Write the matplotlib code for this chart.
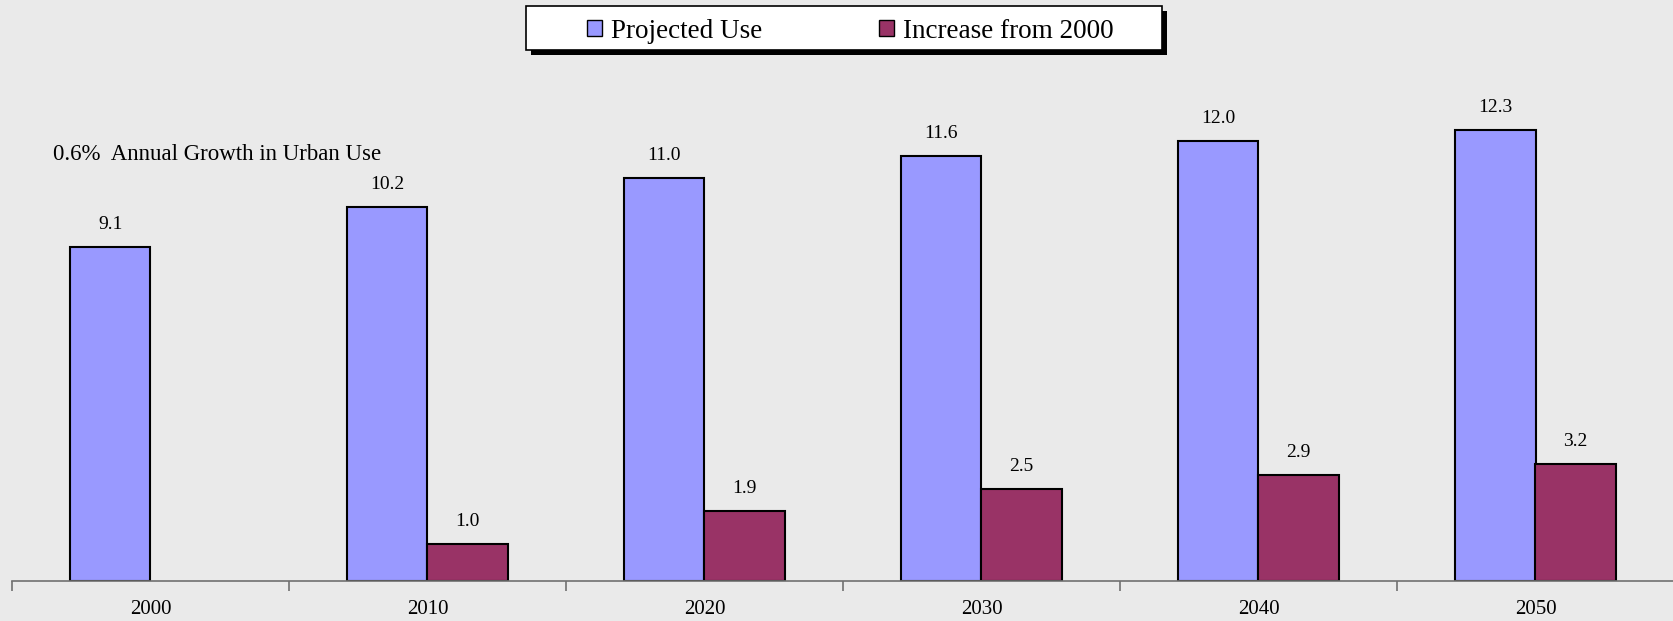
import matplotlib.pyplot as plt
import matplotlib.patches as mpatches
import numpy as np

# Urban water use projections
years = ['2000', '2010', '2020', '2030', '2040', '2050']
projected_use = [9.1, 10.2, 11.0, 11.6, 12.0, 12.3]
increase = [np.nan, 1.0, 1.9, 2.5, 2.9, 3.2]

blue = '#9999FF'
maroon = '#993366'
bg = '#EAEAEA'

plt.rcParams['font.family'] = ['Liberation Serif', 'DejaVu Serif']

fig = plt.figure(figsize=(16.74, 6.21), dpi=100, facecolor=bg)
ax = fig.add_axes([12.0 / 1674, 40 / 621, 6 * 277.0 / 1674, 581 / 621])
ax.set_facecolor(bg)

x = np.arange(len(years))
w = 0.29
b1 = ax.bar(x - w / 2, projected_use, w, color=blue, edgecolor='black', linewidth=1.5)
b2 = ax.bar(x + w / 2, increase, w, color=maroon, edgecolor='black', linewidth=1.5)

ax.bar_label(b1, labels=[f'{v:.1f}' for v in projected_use], padding=10, fontsize=14)
ax.bar_label(b2, labels=['' if np.isnan(v) else f'{v:.1f}' for v in increase],
             padding=10, fontsize=14)

ax.set_xlim(-0.5, 5.5)
ax.set_ylim(0, 581 / 36.67)

for s in ['top', 'right', 'left']:
    ax.spines[s].set_visible(False)
ax.spines['bottom'].set_color('#707070')
ax.spines['bottom'].set_linewidth(1.2)
ax.set_yticks([])

# tick marks between groups, labels centred under each group
ax.set_xticks(np.arange(len(years)) - 0.5)
ax.set_xticklabels([])
ax.tick_params(axis='x', which='major', direction='out', length=7, width=1.2, color='#707070')
ax.set_xticks(x, minor=True)
ax.set_xticklabels(years, minor=True, fontsize=15)
ax.tick_params(axis='x', which='minor', length=0, pad=13.5)

ax.text(-0.351, 11.62, '0.6%  Annual Growth in Urban Use', fontsize=16.5,
        ha='left', va='center')

# legend box with drop shadow
x0, x1 = 526 / 1674, 1162 / 1674
y0, y1 = 1 - 50 / 621, 1 - 6 / 621
fig.patches.append(mpatches.Rectangle((x0 + 5 / 1674, y0 - 5 / 621), x1 - x0, y1 - y0,
                                      transform=fig.transFigure, facecolor='black',
                                      edgecolor='none', zorder=1))
fig.patches.append(mpatches.Rectangle((x0, y0), x1 - x0, y1 - y0,
                                      transform=fig.transFigure, facecolor='white',
                                      edgecolor='black', linewidth=1.2, zorder=2))
handles = [mpatches.Patch(facecolor=blue, edgecolor='black', label='Projected Use'),
           mpatches.Patch(facecolor=maroon, edgecolor='black', label='Increase from 2000')]
leg = fig.legend(handles=handles, loc='center', bbox_to_anchor=(0.508, 1 - 31 / 621),
                 ncol=2, frameon=False, fontsize=19.5, handlelength=0.55,
                 handleheight=0.55, handletextpad=0.35, columnspacing=4.3)
leg.set_zorder(3)

plt.savefig('out.png', dpi=100, facecolor=bg)
